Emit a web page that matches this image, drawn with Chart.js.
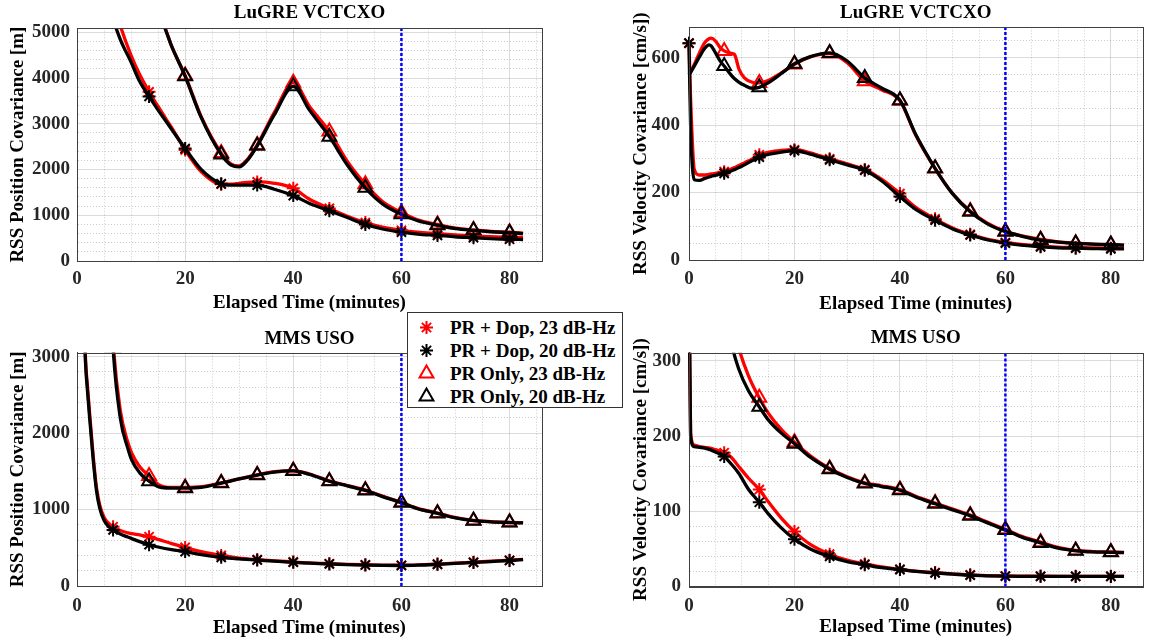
<!DOCTYPE html>
<html>
<head>
<meta charset="utf-8">
<title>RSS covariance</title>
<script src="https://cdn.jsdelivr.net/npm/chart.js@4.4.1/dist/chart.umd.min.js"></script>
<style>
    body { margin: 0; background: #fff; }
    #page { position: relative; width: 1151px; height: 643px; overflow: hidden; }
    #page > canvas { position: absolute; }
    #legend { position: absolute; left: 407px; top: 312px; width: 214px; height: 94px; border: 1px solid #333; background: #fff;
              font: bold 19px "Liberation Serif", "Times New Roman", serif; color: #000; z-index: 5; }
    .row { position: absolute; left: 0; width: 214px; height: 23px; line-height: 23px; white-space: nowrap; }
    .row canvas { position: absolute; left: 8px; top: 1px; }
    .row span { position: absolute; left: 42px; top: 0; }
</style>
</head>
<body>
<div id="page">
    <canvas id="c1" width="575" height="320" style="left:0;top:0"></canvas>
    <canvas id="c2" width="576" height="320" style="left:575px;top:0"></canvas>
    <canvas id="c3" width="575" height="323" style="left:0;top:320px"></canvas>
    <canvas id="c4" width="576" height="323" style="left:575px;top:320px"></canvas>
    <div id="legend"></div>
</div>
<script>

// marker positions along each curve (minutes)
var markerTimes = [0, 6.67, 13.33, 20, 26.67, 33.33, 40, 46.67, 53.33, 60, 66.67, 73.33, 80];

var cutoffMinutes = 60;

var legendItems = ['PR + Dop, 23 dB-Hz', 'PR + Dop, 20 dB-Hz', 'PR Only, 23 dB-Hz', 'PR Only, 20 dB-Hz'];

// LuGRE VCTCXO - position
var tLugrePos = [0, 2, 4, 6.67, 8, 10, 11.5, 13.33, 15, 16.5, 17.5, 20, 23, 26.67, 28.5, 30, 31.5, 33.33, 36.5, 40, 43, 46.67, 50, 53.33, 56.5, 60, 63, 66.67, 70, 73.33, 76.5, 80, 82.5];
var lugrePosDop23 = [12000, 9000, 7000, 5700, 5150, 4500, 4100, 3700, 3380, 3100, 2920, 2430, 1950, 1680, 1680, 1700, 1720, 1730, 1700, 1590, 1350, 1150, 980, 840, 740, 670, 630, 600, 570, 550, 530, 520, 515];
var lugrePosDop20 = [11000, 8200, 6500, 5300, 4850, 4350, 3950, 3600, 3300, 3050, 2880, 2460, 2000, 1690, 1660, 1660, 1660, 1660, 1570, 1430, 1260, 1100, 950, 800, 700, 630, 590, 560, 530, 510, 490, 475, 470];
var lugrePosOnly23 = [20000, 16000, 13000, 10000, 8800, 7600, 6800, 6000, 5500, 5030, 4700, 4060, 3150, 2360, 2120, 2080, 2220, 2540, 3250, 3900, 3380, 2830, 2180, 1680, 1300, 1060, 900, 800, 720, 680, 650, 630, 610];
var lugrePosOnly20 = [20000, 16000, 13000, 10000, 8800, 7600, 6800, 6000, 5480, 5020, 4700, 4040, 3130, 2330, 2100, 2060, 2200, 2520, 3200, 3820, 3300, 2720, 2100, 1600, 1250, 1020, 880, 780, 710, 670, 640, 620, 600];

// LuGRE VCTCXO - velocity
var tLugreVel = [0, 0.3, 1, 2, 3, 3.8, 4.2, 5, 6, 6.67, 8, 8.6, 9.5, 10.5, 12, 13.33, 15, 17.5, 20, 23, 26.67, 30, 33.33, 36.5, 40, 43, 46.67, 50, 53.33, 56.5, 60, 63, 66.67, 70, 73.33, 76.5, 80, 82.5];
var lugreVelDop23 = [643, 480, 268, 252, 252, 254, 255, 257, 260, 262, 270, 274, 280, 288, 300, 312, 319, 325, 327, 318, 300, 285, 268, 240, 197, 156, 122, 95, 76, 62, 52, 46, 41, 38, 37, 36, 35, 35];
var lugreVelDop20 = [643, 400, 238, 236, 242, 246, 248, 251, 255, 257, 264, 268, 274, 282, 295, 305, 313, 320, 324, 314, 297, 282, 266, 235, 188, 150, 118, 92, 74, 60, 50, 44, 39, 36, 35, 34, 33, 33];
var lugreVelOnly23 = [550, 558, 580, 615, 645, 656, 658, 650, 628, 620, 613, 610, 565, 540, 527, 525, 532, 555, 580, 602, 612, 585, 530, 505, 472, 370, 271, 197, 145, 110, 85, 72, 61, 54, 50, 47, 45, 44];
var lugreVelOnly20 = [550, 556, 575, 603, 628, 638, 635, 615, 588, 575, 548, 538, 527, 518, 509, 512, 525, 553, 582, 603, 614, 590, 540, 510, 474, 372, 272, 196, 143, 108, 84, 71, 59, 53, 49, 47, 46, 44];

// MMS USO - position
var tMmsPos = [0, 1, 1.5, 2, 2.4, 3, 3.6, 4.2, 5, 5.8, 6.67, 8, 9.4, 10.1, 11.6, 13.33, 15, 17.5, 20, 23, 26.67, 30, 33.33, 36.5, 40, 43, 46.67, 50, 53.33, 56.5, 60, 63, 66.67, 70, 73.33, 76.5, 80, 82.5];
var mmsPosDop23 = [9200, 4600, 3100, 2560, 2200, 1700, 1290, 1060, 900, 820, 775, 725, 695, 685, 668, 645, 610, 555, 505, 450, 400, 365, 345, 330, 315, 302, 292, 284, 278, 274, 272, 276, 287, 299, 312, 324, 337, 348];
var mmsPosDop20 = [9000, 4500, 3050, 2500, 2150, 1650, 1250, 1020, 860, 780, 733, 680, 640, 620, 580, 540, 510, 475, 450, 410, 375, 355, 340, 325, 310, 298, 288, 280, 274, 270, 268, 272, 283, 295, 308, 320, 333, 345];
var mmsPosOnly23 = [40000, 25000, 20000, 16000, 14000, 11000, 9000, 7500, 5800, 4500, 3200, 2300, 1880, 1740, 1560, 1440, 1330, 1290, 1290, 1300, 1350, 1400, 1455, 1495, 1510, 1465, 1375, 1315, 1255, 1175, 1095, 1015, 955, 895, 858, 843, 833, 828];
var mmsPosOnly20 = [40000, 25000, 20000, 16000, 14000, 11000, 9000, 7500, 5800, 4500, 3120, 2200, 1800, 1650, 1480, 1370, 1300, 1280, 1280, 1290, 1345, 1400, 1450, 1490, 1505, 1460, 1370, 1310, 1250, 1170, 1090, 1010, 950, 890, 855, 840, 830, 825];

// MMS USO - velocity
var tMmsVel = [0, 0.3, 1, 2, 3, 4, 5, 6.67, 8, 9.4, 11.3, 13.33, 15, 17.5, 20, 23, 26.67, 30, 33.33, 36.5, 40, 43, 46.67, 50, 53.33, 56.5, 60, 63, 66.67, 70, 73.33, 76.5, 80, 82.5];
var mmsVelDop23 = [420, 205, 188, 186, 185, 184, 182, 178, 172, 160, 144, 129, 113, 91, 73, 56, 43, 35, 30, 26, 23, 20.5, 18.5, 16.8, 15.5, 14.6, 14, 13.8, 13.7, 13.6, 13.6, 13.6, 13.6, 13.6];
var mmsVelDop20 = [420, 200, 186, 185, 184, 182, 179, 173, 163, 151, 129, 112, 97, 78, 63, 50, 40, 33, 29, 25, 22.5, 20, 18, 16.5, 15, 14.2, 13.7, 13.5, 13.5, 13.4, 13.4, 13.4, 13.4, 13.4];
var mmsVelOnly23 = [2000, 1700, 1200, 900, 720, 600, 520, 420, 360, 318, 280, 251, 231, 209, 192, 174, 157, 146, 138, 134, 129, 120, 111, 103, 95, 86, 76, 67, 59, 52, 48, 46.5, 46, 45.5];
var mmsVelOnly20 = [1800, 1500, 1050, 800, 640, 540, 470, 380, 325, 290, 260, 239, 222, 204, 190, 172, 156, 145, 137, 133, 128, 119, 110, 102, 94, 85, 75, 66, 58, 51, 47.5, 46, 45.5, 45];


var fontFamily = '"Liberation Serif", "Times New Roman", serif';
var tickFont = { family: fontFamily, size: 19, weight: 'bold' };
var labelFont = { family: fontFamily, size: 19, weight: 'bold' };
var majorGrid = 'rgba(0,0,0,0.14)';
var minorGrid = 'rgba(0,0,0,0.2)';

var framePlugin = {
    id: 'frame',
    afterDatasetsDraw: function (chart) {
        var a = chart.chartArea;
        var c = chart.ctx;
        c.save();
        c.strokeStyle = '#404040';
        c.lineWidth = 1;
        c.strokeRect(Math.round(a.left) + 0.5, Math.round(a.top) + 0.5, Math.round(a.right - a.left), Math.round(a.bottom - a.top));
        c.restore();
    }
};

function toPoints(times, values) {
    var pts = [];
    for (var i = 0; i != times.length; i++)
        pts.push({ x: times[i], y: values[i] });
    return pts;
}

function isMarker(t, withZero) {
    if (t === 0 && !withZero) return false;
    for (var k = 0; k != markerTimes.length; k++) {
        if (Math.abs(markerTimes[k] - t) < 0.01) return true;
    }
    return false;
}

function curve(times, values, color, style, withZero) {
    return {
        data: toPoints(times, values),
        borderColor: color,
        backgroundColor: 'rgba(0,0,0,0)',
        borderWidth: 3.3,
        cubicInterpolationMode: 'monotone',
        clip: { left: 10, top: 0, right: 0, bottom: 0 },
        pointStyle: style,
        pointBorderColor: color,
        pointBackgroundColor: 'rgba(0,0,0,0)',
        pointBorderWidth: 2,
        pointRadius: function (ctx) {
            if (!ctx.raw) return 0;
            if (!isMarker(ctx.raw.x, withZero)) return 0;
            return style == 'star' ? 6.5 : 8;
        },
        order: color == '#ff0000' ? 2 : 1
    };
}

function cutoffLine(yMax) {
    return {
        data: [{ x: cutoffMinutes, y: 0 }, { x: cutoffMinutes, y: yMax }],
        borderColor: '#0000ff',
        borderWidth: 2.5,
        borderDash: [3, 2],
        pointRadius: 0,
        order: 0
    };
}

function isMultiple(v, step) {
    var r = Math.abs(v % step);
    return r < 1e-6 || Math.abs(r - step) < 1e-6;
}

function panelChart(id, title, yTitle, times, dop23, dop20, only23, only20, yMax, yStep, yMajor, g) {

    var datasets = [
        curve(times, dop23, '#ff0000', 'star', true),
        curve(times, dop20, '#000000', 'star', true),
        curve(times, only23, '#ff0000', 'triangle', false),
        curve(times, only20, '#000000', 'triangle', false),
        cutoffLine(yMax)
    ];

    var config = {
        type: 'line',
        data: { datasets: datasets },
        options: {
            responsive: false,
            animation: false,
            devicePixelRatio: 1,
            events: [],
            layout: { padding: { left: 0, right: g.padRight, top: 0, bottom: 0 } },
            plugins: {
                legend: { display: false },
                tooltip: { enabled: false },
                title: {
                    display: true,
                    text: title,
                    color: '#000',
                    font: labelFont,
                    fullSize: false,
                    padding: { top: g.titleTop, bottom: g.titleBottom }
                }
            },
            scales: {
                x: {
                    type: 'linear',
                    min: 0,
                    max: 86,
                    ticks: {
                        stepSize: 5,
                        autoSkip: false,
                        maxRotation: 0,
                        includeBounds: false,
                        padding: g.xTickPad,
                        color: '#262626',
                        font: tickFont,
                        callback: function (v) { return isMultiple(v, 20) ? v : ''; }
                    },
                    grid: {
                        drawTicks: false,
                        color: function (ctx) { return ctx.tick && isMultiple(ctx.tick.value, 20) ? majorGrid : minorGrid; }
                    },
                    border: {
                        color: '#404040',
                        dash: function (ctx) { return ctx.tick && !isMultiple(ctx.tick.value, 20) ? [1, 2] : []; }
                    },
                    title: {
                        display: true,
                        text: 'Elapsed Time (minutes)',
                        color: '#000',
                        font: labelFont,
                        padding: { top: 0, bottom: g.xTitlePad }
                    },
                    afterFit: function (scale) { scale.height = g.xHeight; }
                },
                y: {
                    type: 'linear',
                    min: 0,
                    max: yMax,
                    ticks: {
                        stepSize: yStep,
                        autoSkip: false,
                        includeBounds: false,
                        padding: g.yTickPad,
                        color: '#262626',
                        font: tickFont,
                        callback: function (v) { return isMultiple(v, yMajor) ? v : ''; }
                    },
                    grid: {
                        drawTicks: false,
                        color: function (ctx) { return ctx.tick && isMultiple(ctx.tick.value, yMajor) ? majorGrid : minorGrid; }
                    },
                    border: {
                        color: '#404040',
                        dash: function (ctx) { return ctx.tick && !isMultiple(ctx.tick.value, yMajor) ? [1, 2] : []; }
                    },
                    title: {
                        display: true,
                        text: yTitle,
                        color: '#000',
                        font: labelFont,
                        padding: { top: g.yTitlePad, bottom: 0 }
                    },
                    afterFit: function (scale) { scale.width = g.yWidth; }
                }
            }
        },
        plugins: [framePlugin]
    };

    return new Chart(document.getElementById(id), config);
}

panelChart('c1', 'LuGRE VCTCXO', 'RSS Position Covariance [m]', tLugrePos,
    lugrePosDop23, lugrePosDop20, lugrePosOnly23, lugrePosOnly20, 5090, 200, 1000,
    { padRight: 33, titleTop: 2, titleBottom: 3.5, xHeight: 59, xTickPad: 7, xTitlePad: 5.5, yWidth: 77, yTickPad: 7, yTitlePad: 7 });

panelChart('c2', 'LuGRE VCTCXO', 'RSS Velocity Covariance [cm/s])', tLugreVel,
    lugreVelDop23, lugreVelDop20, lugreVelOnly23, lugreVelOnly20, 690, 50, 200,
    { padRight: 0, titleTop: 2, titleBottom: 2.5, xHeight: 60, xTickPad: 8, xTitlePad: 5, yWidth: 114, yTickPad: 9, yTitlePad: 55 });

panelChart('c3', 'MMS USO', 'RSS Position Covariance [m]', tMmsPos,
    mmsPosDop23, mmsPosDop20, mmsPosOnly23, mmsPosOnly20, 3052, 200, 1000,
    { padRight: 33, titleTop: 7.5, titleBottom: 2.4, xHeight: 57, xTickPad: 9, xTitlePad: 3.6, yWidth: 77, yTickPad: 7, yTitlePad: 7 });

panelChart('c4', 'MMS USO', 'RSS Velocity Covariance [cm/s])', tMmsVel,
    mmsVelDop23, mmsVelDop20, mmsVelOnly23, mmsVelOnly20, 311, 20, 100,
    { padRight: 0, titleTop: 6.6, titleBottom: 3.3, xHeight: 56.5, xTickPad: 8.5, xTitlePad: 4.6, yWidth: 114, yTickPad: 8, yTitlePad: 55 });


function drawMarker(canvas, style, color) {
    var c = canvas.getContext('2d');
    var x = canvas.width / 2;
    var y = canvas.height / 2;
    c.strokeStyle = color;
    c.lineWidth = 2;
    c.beginPath();
    if (style == 'star') {
        var r = 6.5;
        for (var k = 0; k != 4; k++) {
            var a = k * Math.PI / 4;
            c.moveTo(x - r * Math.cos(a), y - r * Math.sin(a));
            c.lineTo(x + r * Math.cos(a), y + r * Math.sin(a));
        }
    } else {
        var rt = 8;
        c.moveTo(x, y - rt);
        c.lineTo(x + rt * Math.sin(2 * Math.PI / 3), y - rt * Math.cos(2 * Math.PI / 3));
        c.lineTo(x + rt * Math.sin(4 * Math.PI / 3), y - rt * Math.cos(4 * Math.PI / 3));
        c.closePath();
    }
    c.stroke();
}

var legendStyles = ['star', 'star', 'triangle', 'triangle'];
var legendColors = ['#ff0000', '#000000', '#ff0000', '#000000'];

legendItems.forEach(function (text, i) {
    var row = document.createElement('div');
    row.className = 'row';
    row.style.top = (2.5 + i * 23) + 'px';
    var mk = document.createElement('canvas');
    mk.width = 21;
    mk.height = 21;
    drawMarker(mk, legendStyles[i], legendColors[i]);
    var span = document.createElement('span');
    span.textContent = text;
    row.appendChild(mk);
    row.appendChild(span);
    document.getElementById('legend').appendChild(row);
});

</script>
</body>
</html>
